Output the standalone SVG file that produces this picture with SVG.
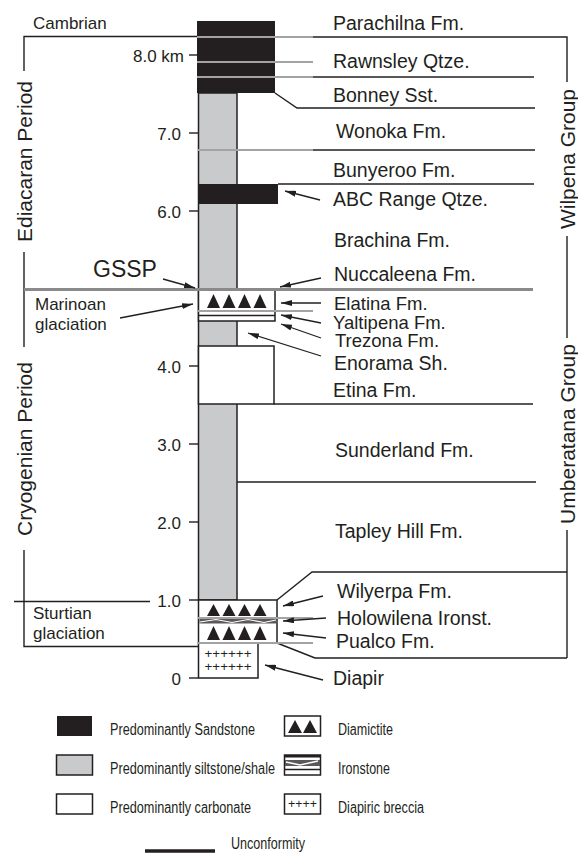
<svg xmlns="http://www.w3.org/2000/svg" width="578" height="855" viewBox="0 0 578 855">
<style>
text{font-family:"Liberation Sans",Arial,sans-serif;fill:#231f20}
.fm{font-size:19.5px}
.fs{font-size:18.5px}
.tk{font-size:17px;text-anchor:end}
.sd{font-size:17px}
.per{font-size:21px;text-anchor:middle}
.lg{font-size:16px}
.ln{stroke:#231f20;stroke-width:1.4;fill:none}
.gl{stroke:#a3a3a3;stroke-width:1.8;fill:none}
.ar{stroke:#231f20;stroke-width:1.3;fill:none;marker-end:url(#ah)}
.blk{fill:#231f20}
.gry{fill:#c9cacc;stroke:#231f20;stroke-width:1.5}
.box{fill:#fff;stroke:#231f20;stroke-width:1.5}
.tri{fill:#231f20}
.pl{font-size:12px;text-anchor:middle}
</style>
<defs>
<marker id="ah" viewBox="0 0 11 6" refX="11" refY="3" markerWidth="11" markerHeight="6" markerUnits="userSpaceOnUse" orient="auto"><path d="M0,0 L11,3 L0,6 z" fill="#231f20"/></marker>
</defs>
<rect width="578" height="855" fill="#fff"/>

<g id="column">
<rect class="gry" x="198.5" y="93" width="38.5" height="507"/>
<rect id="sandstone-top" class="blk" x="197" y="21" width="78" height="72"/>
<rect id="abc-range" class="blk" x="198" y="184" width="80" height="20"/>
<rect id="elatina-box" class="box" x="198.5" y="289" width="76.5" height="32"/>
<polygon class="tri" points="207,308 213.5,294 220,308"/>
<polygon class="tri" points="222.5,308 229,294 235.5,308"/>
<polygon class="tri" points="238,308 244.5,294 251,308"/>
<polygon class="tri" points="253.5,308 260,294 266.5,308"/>
<line class="ln" x1="198.5" y1="315.5" x2="275" y2="315.5"/>
<rect id="etina-box" class="box" x="198.5" y="346" width="75.5" height="58"/>
<rect id="sturtian-box" class="box" x="198.5" y="600" width="78.5" height="43"/>
<polygon class="tri" points="207,616 213.5,604 220,616"/>
<polygon class="tri" points="222.5,616 229,604 235.5,616"/>
<polygon class="tri" points="238,616 244.5,604 251,616"/>
<polygon class="tri" points="253.5,616 260,604 266.5,616"/>
<rect x="199.5" y="618.5" width="76.5" height="5" fill="#5a5a5a"/>
<path d="M200,622 L216,619.5 L232,622.5 L248,619.5 L264,622.5 L276,620" stroke="#fff" stroke-width="1.2" fill="none"/>
<polygon class="tri" points="207,640 213.5,626 220,640"/>
<polygon class="tri" points="222.5,640 229,626 235.5,640"/>
<polygon class="tri" points="238,640 244.5,626 251,640"/>
<polygon class="tri" points="253.5,640 260,626 266.5,640"/>
<rect id="diapir-box" class="box" x="198.5" y="643" width="59.5" height="35"/>
<text class="pl" x="228" y="658" textLength="47" lengthAdjust="spacingAndGlyphs">++++++</text>
<text class="pl" x="228" y="671" textLength="47" lengthAdjust="spacingAndGlyphs">++++++</text>
</g>

<g id="connectors">
<polyline class="ln" points="24,71 24,36.5 197,36.5"/>
<line class="gl" x1="197" y1="37" x2="313" y2="37" stroke-width="2.2"/>
<polyline class="ln" points="313,37 567,37 567,82"/>
<line class="gl" x1="197" y1="62" x2="313" y2="62"/>
<line class="gl" x1="197" y1="77" x2="313" y2="77"/>
<line class="ln" x1="313" y1="77" x2="534" y2="77"/>
<polyline class="ln" points="275,93 297,108 535,108"/>
<line class="gl" x1="198" y1="150" x2="313" y2="150"/>
<line class="ln" x1="313" y1="150" x2="535" y2="150"/>
<line class="ln" x1="278" y1="184" x2="534" y2="184"/>
<line class="ln" x1="24" y1="252" x2="24" y2="347"/>
<line x1="24" y1="289.5" x2="533" y2="289.5" stroke="#8a8a8a" stroke-width="3"/>
<line class="gl" x1="198" y1="311" x2="313" y2="311"/>
<line class="ln" x1="274" y1="404" x2="533" y2="404"/>
<line class="ln" x1="237" y1="482" x2="536" y2="482"/>
<line class="ln" x1="567" y1="236" x2="567" y2="338"/>
<polyline class="ln" points="277,600 312,572 567,572"/>
<line class="ln" x1="567" y1="530" x2="567" y2="658"/>
<polyline class="ln" points="277,643 315,658 567,658"/>
<line class="gl" x1="198" y1="618" x2="313" y2="618"/>
<line class="gl" x1="198" y1="643" x2="313" y2="643"/>
<polyline class="ln" points="24,550 24,646.5 198,646.5"/>
<line class="ln" x1="14" y1="601.5" x2="150" y2="601.5"/>

<line class="ln" x1="189" y1="55" x2="198" y2="55"/>
<line class="ln" x1="189" y1="133" x2="198" y2="133"/>
<line class="ln" x1="189" y1="211" x2="198" y2="211"/>
<line class="ln" x1="189" y1="366" x2="198" y2="366"/>
<line class="ln" x1="189" y1="444" x2="198" y2="444"/>
<line class="ln" x1="189" y1="522" x2="198" y2="522"/>
<line class="ln" x1="189" y1="600" x2="198" y2="600"/>
<line class="ln" x1="189" y1="678" x2="198" y2="678"/>

<line class="ar" x1="320" y1="200" x2="285" y2="191"/>
<line class="ar" x1="163" y1="279" x2="195" y2="288"/>
<line class="ar" x1="321" y1="278" x2="280" y2="287"/>
<line class="ar" x1="321" y1="303" x2="281" y2="303"/>
<line class="ar" x1="321" y1="323" x2="281" y2="315"/>
<line class="ar" x1="321" y1="338" x2="281" y2="324"/>
<line class="ar" x1="321" y1="356" x2="248" y2="333"/>
<line class="ar" x1="120" y1="318" x2="193" y2="304"/>
<line class="ar" x1="323" y1="596" x2="283" y2="606"/>
<line class="ar" x1="326" y1="618" x2="283" y2="621"/>
<line class="ar" x1="326" y1="638" x2="283" y2="633"/>
<line class="ar" x1="323" y1="680" x2="265" y2="665"/>
</g>

<g id="scale">
<text class="tk" x="184" y="62">8.0 km</text>
<text class="tk" x="181" y="140">7.0</text>
<text class="tk" x="181" y="218">6.0</text>
<text class="tk" x="181" y="373">4.0</text>
<text class="tk" x="181" y="451">3.0</text>
<text class="tk" x="181" y="529">2.0</text>
<text class="tk" x="181" y="607">1.0</text>
<text class="tk" x="181" y="685">0</text>
</g>

<g id="periods">
<text class="sd" x="33" y="29">Cambrian</text>
<text class="per" transform="translate(32,161.5) rotate(-90)">Ediacaran Period</text>
<text class="per" transform="translate(32,449) rotate(-90)">Cryogenian Period</text>
<text x="93" y="277" font-size="23">GSSP</text>
<text class="sd" x="35" y="310">Marinoan</text>
<text class="sd" x="35" y="330">glaciation</text>
<text class="sd" x="33" y="619">Sturtian</text>
<text class="sd" x="33" y="639">glaciation</text>
</g>

<g id="groups">
<text class="per" transform="translate(575,159) rotate(-90)">Wilpena Group</text>
<text class="per" transform="translate(575,434) rotate(-90)">Umberatana Group</text>
</g>

<g id="formations">
<text class="fm" x="333" y="30">Parachilna Fm.</text>
<text class="fm" x="333" y="68">Rawnsley Qtze.</text>
<text class="fm" x="333" y="102">Bonney Sst.</text>
<text class="fm" x="336" y="138">Wonoka Fm.</text>
<text class="fm" x="333" y="177">Bunyeroo Fm.</text>
<text class="fm" x="333" y="206">ABC Range Qtze.</text>
<text class="fm" x="334" y="247">Brachina Fm.</text>
<text class="fm" x="334" y="281">Nuccaleena Fm.</text>
<text class="fs" x="334" y="310">Elatina Fm.</text>
<text class="fs" x="333" y="328.5">Yaltipena Fm.</text>
<text class="fs" x="335" y="347">Trezona Fm.</text>
<text class="fm" x="334" y="370">Enorama Sh.</text>
<text class="fm" x="333" y="397">Etina Fm.</text>
<text class="fm" x="335" y="457">Sunderland Fm.</text>
<text class="fm" x="335" y="538">Tapley Hill Fm.</text>
<text class="fm" x="337" y="598">Wilyerpa Fm.</text>
<text class="fm" x="337" y="625">Holowilena Ironst.</text>
<text class="fm" x="336" y="648">Pualco Fm.</text>
<text class="fm" x="333" y="685">Diapir</text>
</g>

<g id="legend">
<rect class="blk" x="57" y="716" width="35" height="20"/>
<text class="lg" x="110" y="735" textLength="145" lengthAdjust="spacingAndGlyphs">Predominantly Sandstone</text>
<rect class="gry" x="56.5" y="755" width="36" height="20"/>
<text class="lg" x="110" y="774" textLength="165" lengthAdjust="spacingAndGlyphs">Predominantly siltstone/shale</text>
<rect class="box" x="56.5" y="794" width="36" height="20"/>
<text class="lg" x="110" y="813" textLength="141" lengthAdjust="spacingAndGlyphs">Predominantly carbonate</text>

<rect class="box" x="284.5" y="716" width="36" height="20"/>
<polygon class="tri" points="288,733 295,720 302,733"/>
<polygon class="tri" points="303,733 310,720 317,733"/>
<text class="lg" x="338" y="735" textLength="55" lengthAdjust="spacingAndGlyphs">Diamictite</text>

<rect class="box" x="284.5" y="755" width="36" height="20"/>
<rect class="blk" x="284.5" y="755" width="36" height="2.5"/>
<rect x="285" y="760" width="35" height="6" fill="#5a5a5a"/>
<path d="M286,762 L300,765 L318,761" stroke="#fff" stroke-width="1.5" fill="none"/>
<line class="ln" x1="284.5" y1="769.5" x2="320.5" y2="769.5" stroke-width="1.8"/>
<text class="lg" x="338" y="774" textLength="52" lengthAdjust="spacingAndGlyphs">Ironstone</text>

<rect class="box" x="284.5" y="794" width="36" height="20"/>
<text class="pl" x="302.5" y="808" textLength="29" lengthAdjust="spacingAndGlyphs">++++</text>
<text class="lg" x="338" y="813" textLength="86" lengthAdjust="spacingAndGlyphs">Diapiric breccia</text>

<line x1="145" y1="851" x2="215" y2="851" stroke="#231f20" stroke-width="3.5"/>
<text class="lg" x="231" y="849" textLength="74" lengthAdjust="spacingAndGlyphs">Unconformity</text>
</g>
</svg>
